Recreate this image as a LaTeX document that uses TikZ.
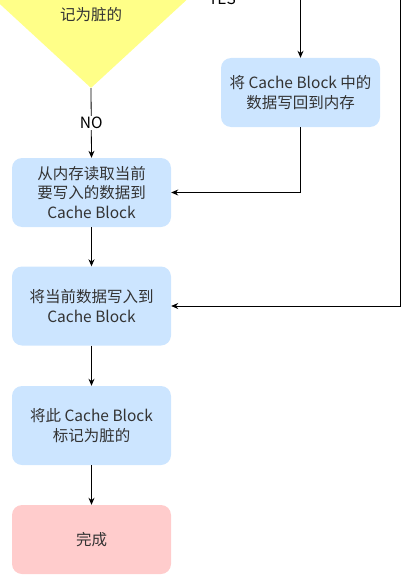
\documentclass[tikz,border=0pt]{standalone}
\usepackage{fontspec}
\setmainfont{Noto Sans CJK SC}
\usetikzlibrary{shapes.geometric,arrows.meta}
\definecolor{stepblue}{HTML}{CCE5FF}
\definecolor{donered}{HTML}{FFCCCC}
\definecolor{checkyellow}{HTML}{FFFF88}
\definecolor{inkgray}{HTML}{333333}
\begin{document}
\begin{tikzpicture}[x=1pt,y=-1pt,
    font=\fontsize{15.5}{19.5}\selectfont, text=inkgray,
    stepbox/.style={rectangle, rounded corners=10pt, fill=stepblue,
      minimum width=159pt, minimum height=69pt, align=center, inner sep=2pt},
    decision/.style={diamond, fill=checkyellow, inner sep=0pt,
      minimum width=202pt, minimum height=186pt},
    edgelabel/.style={fill=white, inner sep=1pt},
    flow/.style={-{Stealth[length=7pt,width=6pt]}, line width=0.8pt, black}]
  \clip (0,0) rectangle (408,578);
  \node[decision] (check) at (91,-5) {};
  \node at ([yshift=-20pt]check.center) {记为脏的};
  \node[stepbox] (wb) at (300.5,92.5) {将 Cache Block 中的\\数据写回到内存};
  \node[stepbox] (load) at (91.5,192.5) {从内存读取当前\\要写入的数据到\\Cache Block};
  \node[stepbox, minimum height=79pt] (write) at (91.5,306) {将当前数据写入到\\Cache Block};
  \node[stepbox, minimum height=79pt] (mark) at (91.5,425.5) {将此 Cache Block\\标记为脏的};
  \node[stepbox, fill=donered] (done) at (91.5,539.5) {完成};
  \coordinate (hit) at (400,-30);
  \begin{scope}[flow]
    \draw (check.east) -| node[edgelabel, pos=0.14, yshift=-4pt]{YES} (wb.north);
    \draw (check.south) -- node[edgelabel]{NO} (load.north);
    \draw (wb.south) |- (load.east);
    \draw (hit) |- (write.east);
    \draw (load) to (write);
    \draw (write) to (mark);
    \draw (mark) to (done);
  \end{scope}
\end{tikzpicture}
\end{document}
